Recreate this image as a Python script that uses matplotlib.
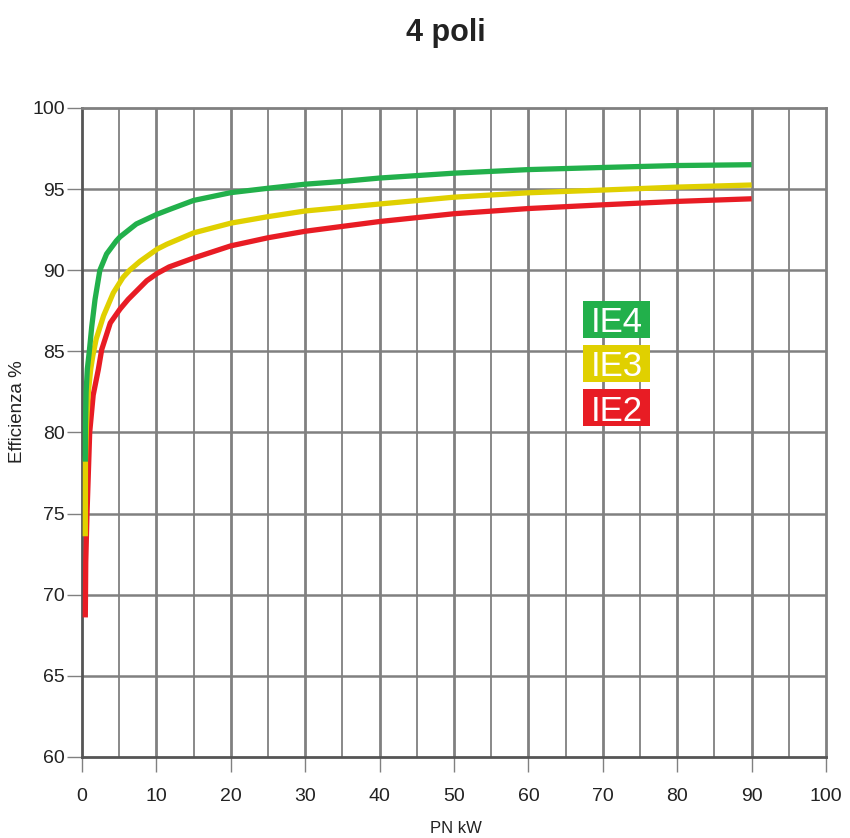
import matplotlib
matplotlib.use("Agg")
import matplotlib.pyplot as plt
from matplotlib.patches import Rectangle

plt.rcParams['font.family'] = ['Liberation Sans', 'DejaVu Sans']

# ---- data ----
ie4_x = [0.44, 0.46, 0.55, 0.71, 0.98, 1.3, 1.75, 2.4, 3.3, 4.6, 5.1, 7.3, 10.1, 11.8,
         15, 20, 25, 30, 35, 40, 50, 60, 70, 80, 90]
ie4_y = [78.2, 80.5, 82.5, 83.9, 85.0, 86.5, 88.2, 90.0, 91.0, 91.8, 92.05, 92.85, 93.45, 93.75,
         94.3, 94.78, 95.05, 95.3, 95.47, 95.68, 95.98, 96.2, 96.33, 96.45, 96.5]

ie3_x = [0.44, 0.46, 0.6, 0.85, 1.17, 1.44, 1.9, 2.9, 4.2, 5.5, 6.4, 7.8, 10.1, 11.4,
         15, 20, 25, 30, 40, 50, 60, 70, 80, 90]
ie3_y = [73.6, 78.2, 80.5, 82.5, 83.9, 84.7, 85.75, 87.2, 88.6, 89.55, 90.0, 90.55, 91.3, 91.6,
         92.3, 92.9, 93.3, 93.65, 94.08, 94.5, 94.77, 94.94, 95.12, 95.25]

ie2_x = [0.44, 0.5, 0.67, 1.03, 1.5, 2.2, 2.64, 3.8, 5.1, 6.2, 8.7, 10.1, 11.7,
         15, 20, 25, 30, 35, 40, 50, 60, 70, 80, 90]
ie2_y = [68.6, 72.0, 75.0, 80.0, 82.3, 83.9, 85.1, 86.75, 87.6, 88.2, 89.35, 89.8, 90.2,
         90.75, 91.5, 92.0, 92.4, 92.7, 93.0, 93.48, 93.8, 94.03, 94.24, 94.4]

series_names = ["IE4", "IE3", "IE2"]
colors = {"IE4": "#22b04b", "IE3": "#e0d000", "IE2": "#e81c24"}

x_ticks = list(range(0, 101, 10))
x_minor = list(range(5, 100, 10))
y_ticks = list(range(60, 101, 5))

title = "4 poli"
x_label = "PN kW"
y_label = "Efficienza %"

# ---- figure ----
fig = plt.figure(figsize=(8.5, 8.38), dpi=100)
ax = fig.add_axes([0.0965, 0.0967, 0.8753, 0.7745])

ax.set_xlim(0, 100)
ax.set_ylim(60, 100)

grid_c = "#808080"
for xv in x_ticks[1:-1]:
    ax.axvline(xv, color=grid_c, lw=2.0, zorder=1)
for xv in x_minor:
    ax.axvline(xv, color=grid_c, lw=1.3, zorder=1)
for yv in y_ticks[1:-1]:
    ax.axhline(yv, color=grid_c, lw=1.8, zorder=1)

lw = 3.8
kw = dict(lw=lw, solid_capstyle='butt', solid_joinstyle='round')
ax.plot(ie2_x, ie2_y, color=colors["IE2"], zorder=3, **kw)
ax.plot(ie3_x, ie3_y, color=colors["IE3"], zorder=4, **kw)
ax.plot(ie4_x, ie4_y, color=colors["IE4"], zorder=5, **kw)

ax.set_xticks(x_ticks)
ax.set_yticks(y_ticks)
ax.tick_params(axis='x', length=11, width=1.0, color=grid_c, pad=11, labelsize=14, labelcolor="#222222")
ax.tick_params(axis='y', length=11, width=1.0, color=grid_c, pad=1.5, labelsize=14, labelcolor="#222222")

for side in ["top", "right"]:
    ax.spines[side].set_color(grid_c)
    ax.spines[side].set_linewidth(2.0)
for side in ["left", "bottom"]:
    ax.spines[side].set_color("#555555")
    ax.spines[side].set_linewidth(2.0)

# legend boxes
box_x0 = 0.673
box_w = 0.0905
box_h = 0.0565
box_bottoms = [0.646, 0.578, 0.510]
for name, yb in zip(series_names, box_bottoms):
    ax.add_patch(Rectangle((box_x0, yb), box_w, box_h, transform=ax.transAxes,
                           facecolor=colors[name], edgecolor='none', zorder=6))
    ax.text(box_x0 + box_w / 2, yb + box_h / 2, name, transform=ax.transAxes,
            ha='center', va='center_baseline', color='white', fontsize=25, zorder=7)

fig.text(446 / 850, 1 - 33 / 838, title, ha='center', va='center', fontsize=22,
         fontweight='bold', color="#222222")
fig.text(456 / 850, 1 - 828 / 838, x_label, ha='center', va='center', fontsize=12, color="#222222")
fig.text(18 / 850, 1 - 412 / 838, y_label, ha='center', va='center', rotation=90,
         fontsize=13.5, color="#222222")

fig.savefig("out.png", dpi=100)
